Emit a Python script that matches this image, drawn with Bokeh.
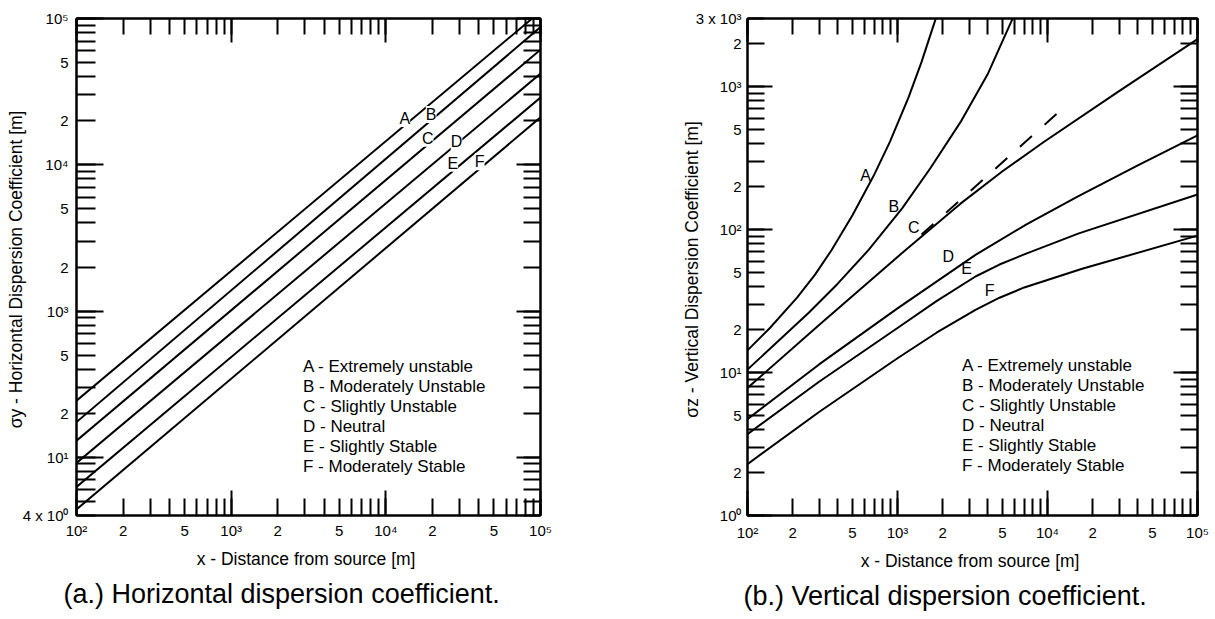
from bokeh.plotting import figure
from bokeh.models import (Range1d, LogAxis, FixedTicker, Legend, LegendItem,
                          LabelSet, ColumnDataSource, Title, CustomJSTickFormatter)
from bokeh.layouts import row
from bokeh.embed import file_html
from bokeh.resources import INLINE
from bokeh.core.properties import value

FONT = "Liberation Sans"
H = 619

# ---------------- shared ----------------
stability = ["A", "B", "C", "D", "E", "F"]
legend_labels = ["A - Extremely unstable", "B - Moderately Unstable",
                 "C - Slightly Unstable", "D - Neutral",
                 "E - Slightly Stable", "F - Moderately Stable"]

x_tick_labels = {100: "10\u00b2", 200: "2", 500: "5", 1000: "10\u00b3",
                 2000: "2", 5000: "5", 10000: "10\u2074", 20000: "2",
                 50000: "5", 100000: "10\u2075"}

# ---------------- (a) horizontal dispersion coefficient ----------------
sy_x = [100, 100000]
sy_A = [244, 111700]
sy_B = [174, 87300]
sy_C = [130, 61200]
sy_D = [91.4, 42000]
sy_E = [62.7, 28800]
sy_F = [44.0, 21100]
sy_label_x = [13270, 19640, 18660, 28640, 27100, 40460]
sy_label_y = [20750, 22090, 15170, 14380, 10250, 10500]
sy_tick_labels = {40: "4 x 10\u2070", 100: "10\u00b9", 200: "2", 500: "5",
                  1000: "10\u00b3", 2000: "2", 5000: "5", 10000: "10\u2074",
                  20000: "2", 50000: "5", 100000: "10\u2075"}

# ---------------- (b) vertical dispersion coefficient ----------------
sz_A_x = [100, 141, 214, 282, 363, 501, 692, 891, 1183, 1445, 1774, 2000]
sz_A_y = [14.3, 20.5, 33.4, 48.4, 71.8, 126, 237, 413, 839, 1486, 2864, 4300]
sz_B_x = [100, 256, 398, 644, 1074, 1660, 2630, 3981, 5821, 7000]
sz_B_y = [10.5, 26.2, 41.7, 72.4, 141, 270, 565, 1216, 2958, 4700]
sz_C_x = [100, 300, 1102, 2630, 5012, 9441, 30000, 100000]
sz_C_y = [7.8, 21.5, 70.3, 152, 256, 410, 931, 2153]
sz_D_x = [100, 300, 1000, 3311, 7244, 15849, 40000, 100000]
sz_D_y = [4.72, 11.4, 28.1, 66.6, 108.9, 170, 282, 457]
sz_E_x = [100, 300, 1000, 1820, 3311, 4786, 7000, 16180, 100000]
sz_E_y = [3.71, 8.63, 20.5, 31.6, 47.0, 57.0, 67.1, 94.2, 176]
sz_F_x = [100, 300, 1000, 1820, 3311, 4786, 7000, 17030, 100000]
sz_F_y = [2.29, 5.3, 12.6, 19.0, 27.5, 33.4, 39.4, 53.2, 90.8]
sz_C_dash_x = [1445, 12390]
sz_C_dash_y = [92.3, 691]
sz_label_x = [612, 945, 1285, 2178, 2884, 4121]
sz_label_y = [240, 146, 103, 64.9, 53.7, 37.4]
sz_tick_labels = {1: "10\u2070", 2: "2", 5: "5", 10: "10\u00b9", 20: "2", 50: "5",
                  100: "10\u00b2", 200: "2", 500: "5", 1000: "10\u00b3", 2000: "2",
                  3000: "3 x 10\u00b3"}


def log_ticks(lo, hi):
    out = []
    for k in range(0, 6):
        for m in range(1, 10):
            v = m * 10.0 ** k
            if lo * (1 - 1e-9) <= v <= hi * (1 + 1e-9):
                out.append(v)
    return out


def decades(lo, hi):
    return [10.0 ** k for k in range(0, 6) if lo * (1 - 1e-9) <= 10.0 ** k <= hi * (1 + 1e-9)]


JS = """
for (let i = 0; i < vals.length; i++) {
    if (Math.abs(vals[i] - tick) <= 1e-6 * Math.abs(vals[i])) { return labs[i]; }
}
return "";
"""


def setup_axis(ax, lo, hi, labels=None, short=17, long=25, standoff=6):
    ax.ticker = FixedTicker(ticks=log_ticks(lo, hi), minor_ticks=decades(lo, hi))
    ax.major_tick_in = short
    ax.major_tick_out = 0
    ax.minor_tick_in = long
    ax.minor_tick_out = 0
    ax.major_tick_line_width = 2
    ax.minor_tick_line_width = 2
    ax.major_tick_line_color = "black"
    ax.minor_tick_line_color = "black"
    ax.axis_line_width = 2
    ax.axis_line_color = "black"
    if labels is not None:
        ax.formatter = CustomJSTickFormatter(
            args=dict(vals=[float(k) for k in labels.keys()], labs=list(labels.values())),
            code=JS)
        ax.major_label_text_font = FONT
        ax.major_label_text_font_size = "15px"
        ax.major_label_text_color = "black"
        ax.major_label_standoff = standoff
    else:
        ax.formatter = CustomJSTickFormatter(code="return '';")
        ax.major_label_text_font_size = "0px"
        ax.major_label_standoff = 0
        ax.axis_label_standoff = 0


def base_figure(width, ylo, yhi, left, right, top, bottom):
    p = figure(width=width, height=H, x_axis_type="log", y_axis_type="log",
               x_range=Range1d(100, 1e5), y_range=Range1d(ylo, yhi),
               output_backend="svg", toolbar_location=None,
               min_border_left=left, min_border_right=right,
               min_border_top=top, min_border_bottom=bottom)
    p.grid.grid_line_color = None
    p.outline_line_color = "black"
    p.outline_line_width = 2
    p.background_fill_color = "white"
    p.border_fill_color = "white"
    return p


def style_title(ax, text, standoff):
    ax.axis_label = text
    ax.axis_label_text_font = FONT
    ax.axis_label_text_font_size = "17.5px"
    ax.axis_label_text_font_style = "normal"
    ax.axis_label_text_color = "black"
    ax.axis_label_standoff = standoff


def add_frame_axes(p, ylo, yhi):
    top = LogAxis()
    setup_axis(top, 100, 1e5, None, short=16, long=24)
    p.add_layout(top, "above")
    right = LogAxis()
    setup_axis(right, ylo, yhi, None, short=17, long=24)
    p.add_layout(right, "right")


def add_legend(p, renderers, loc):
    items = [LegendItem(label=t, renderers=[r]) for t, r in zip(legend_labels, renderers)]
    lg = Legend(items=items, location=loc, glyph_width=0, glyph_height=20,
                label_height=20, label_standoff=0, spacing=0, padding=0, margin=0,
                border_line_color=None, background_fill_alpha=0,
                label_text_font=FONT, label_text_font_size="17px",
                label_text_color="black")
    p.add_layout(lg)


def add_caption(p, text, offset):
    p.add_layout(Title(text=text, align="left", offset=offset, standoff=10,
                       text_font=FONT, text_font_size="27px", text_font_style="normal",
                       text_color="black"), "below")


# ---------------- figure (a): frame 76..540 x 18..517 ----------------
pA = base_figure(600, 40, 1e5, 76, 60, 18, H - 18 - 499)
bottomA = pA.below[0]
leftA = pA.left[0]
setup_axis(bottomA, 100, 1e5, x_tick_labels, short=17, long=25, standoff=6)
setup_axis(leftA, 40, 1e5, sy_tick_labels, short=19, long=27, standoff=8)
style_title(bottomA, "x - Distance from source  [m]", 7)
style_title(leftA, "\u03c3y - Horizontal Dispersion Coefficient  [m]", -6)
add_frame_axes(pA, 40, 1e5)

rendA = []
for ys in (sy_A, sy_B, sy_C, sy_D, sy_E, sy_F):
    rendA.append(pA.line(sy_x, ys, line_color="black", line_width=2))

srcA = ColumnDataSource(dict(x=sy_label_x, y=sy_label_y, t=stability))
pA.add_layout(LabelSet(x="x", y="y", text="t", source=srcA, text_align="center",
                       text_baseline="middle", text_font=value(FONT),
                       text_font_size=value("16px"), text_color="black",
                       background_fill_color="white"))
add_legend(pA, rendA, (227, 38))
add_caption(pA, "(a.)  Horizontal dispersion coefficient.", -13)

# ---------------- figure (b): frame 747..1197 x 16..515 ----------------
pB = base_figure(613, 1, 3000, 147, 16, 16, H - 16 - 499)
bottomB = pB.below[0]
leftB = pB.left[0]
setup_axis(bottomB, 100, 1e5, x_tick_labels, short=17, long=25, standoff=8)
setup_axis(leftB, 1, 3000, sz_tick_labels, short=17, long=25, standoff=6)
style_title(bottomB, "x - Distance from source  [m]", 7)
style_title(leftB, "\u03c3z - Vertical Dispersion Coefficient  [m]", -9)
add_frame_axes(pB, 1, 3000)

rendB = []
for xs, ys in ((sz_A_x, sz_A_y), (sz_B_x, sz_B_y), (sz_C_x, sz_C_y),
               (sz_D_x, sz_D_y), (sz_E_x, sz_E_y), (sz_F_x, sz_F_y)):
    rendB.append(pB.line(xs, ys, line_color="black", line_width=2))
pB.line(sz_C_dash_x, sz_C_dash_y, line_color="black", line_width=2, line_dash="16 17")

srcB = ColumnDataSource(dict(x=sz_label_x, y=sz_label_y, t=stability))
pB.add_layout(LabelSet(x="x", y="y", text="t", source=srcB, text_align="center",
                       text_baseline="middle", text_font=value(FONT),
                       text_font_size=value("16px"), text_color="black"))
add_legend(pB, rendB, (215, 39))
add_caption(pB, "(b.)  Vertical dispersion coefficient.", -4)

layout = row(pA, pB)
open("out.html", "w").write(file_html(layout, INLINE))
